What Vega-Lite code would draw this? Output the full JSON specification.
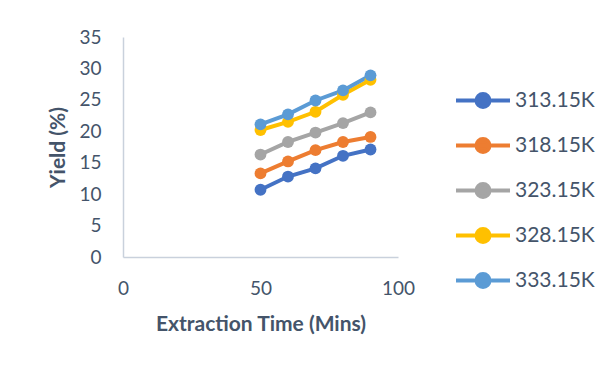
{
  "$schema": "https://vega.github.io/schema/vega-lite/v6.json",
  "autosize": {"type": "none"},
  "width": 275,
  "height": 220,
  "padding": {"left": 123, "top": 37, "right": 218, "bottom": 112},
  "background": "#ffffff",
  "config": {
    "font": "Lato",
    "view": {"stroke": null},
    "axis": {
      "grid": false,
      "ticks": false,
      "labelFlush": false,
      "domainColor": "#C9D1DC",
      "domainWidth": 1.5,
      "labelColor": "#44546A",
      "labelFont": "Lato",
      "labelFontSize": 19,
      "titleColor": "#44546A",
      "titleFont": "Lato",
      "titleFontSize": 21,
      "titleFontWeight": "bold"
    }
  },
  "data": {
    "values": [
      {"time": 50, "yield": 10.7, "temp": "313.15K"},
      {"time": 60, "yield": 12.8, "temp": "313.15K"},
      {"time": 70, "yield": 14.1, "temp": "313.15K"},
      {"time": 80, "yield": 16.1, "temp": "313.15K"},
      {"time": 90, "yield": 17.1, "temp": "313.15K"},
      {"time": 50, "yield": 13.3, "temp": "318.15K"},
      {"time": 60, "yield": 15.2, "temp": "318.15K"},
      {"time": 70, "yield": 17.0, "temp": "318.15K"},
      {"time": 80, "yield": 18.3, "temp": "318.15K"},
      {"time": 90, "yield": 19.1, "temp": "318.15K"},
      {"time": 50, "yield": 16.3, "temp": "323.15K"},
      {"time": 60, "yield": 18.3, "temp": "323.15K"},
      {"time": 70, "yield": 19.8, "temp": "323.15K"},
      {"time": 80, "yield": 21.3, "temp": "323.15K"},
      {"time": 90, "yield": 23.0, "temp": "323.15K"},
      {"time": 50, "yield": 20.2, "temp": "328.15K"},
      {"time": 60, "yield": 21.5, "temp": "328.15K"},
      {"time": 70, "yield": 23.1, "temp": "328.15K"},
      {"time": 80, "yield": 25.8, "temp": "328.15K"},
      {"time": 90, "yield": 28.2, "temp": "328.15K"},
      {"time": 50, "yield": 21.1, "temp": "333.15K"},
      {"time": 60, "yield": 22.7, "temp": "333.15K"},
      {"time": 70, "yield": 24.9, "temp": "333.15K"},
      {"time": 80, "yield": 26.5, "temp": "333.15K"},
      {"time": 90, "yield": 28.9, "temp": "333.15K"}
    ]
  },
  "mark": {
    "type": "line",
    "strokeWidth": 4,
    "point": {"filled": true, "size": 140, "opacity": 1}
  },
  "encoding": {
    "x": {
      "field": "time",
      "type": "quantitative",
      "scale": {"domain": [0, 100], "nice": false},
      "axis": {"values": [0, 50, 100], "labelPadding": 22, "title": "Extraction Time (Mins)", "titlePadding": 15}
    },
    "y": {
      "field": "yield",
      "type": "quantitative",
      "scale": {"domain": [0, 35], "nice": false},
      "axis": {"values": [0, 5, 10, 15, 20, 25, 30, 35], "labelPadding": 22, "title": "Yield (%)", "titlePadding": 10}
    },
    "color": {
      "field": "temp",
      "type": "nominal",
      "scale": {
        "domain": ["313.15K", "318.15K", "323.15K", "328.15K", "333.15K"],
        "range": ["#4472C4", "#ED7D31", "#A5A5A5", "#FFC000", "#5B9BD5"]
      },
      "legend": {
        "title": null,
        "orient": "none",
        "legendX": 331,
        "legendY": 41,
        "symbolType": "M-1,0H1M0.24,0A0.24,0.24 0 1,1 -0.24,0A0.24,0.24 0 1,1 0.24,0Z",
        "symbolSize": 2916,
        "symbolStrokeWidth": 4,
        "clipHeight": 45,
        "rowPadding": 0,
        "labelOffset": 3,
        "labelFont": "Lato",
        "labelFontSize": 21,
        "labelColor": "#44546A",
        "labelLimit": 200,
        "encode": {
          "symbols": {
            "update": {
              "fill": {"scale": "color", "field": "value"},
              "stroke": {"scale": "color", "field": "value"},
              "opacity": {"value": 1}
            }
          }
        }
      }
    }
  }
}
